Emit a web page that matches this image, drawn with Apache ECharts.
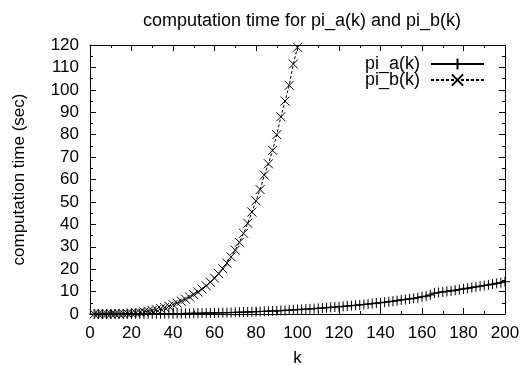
<!DOCTYPE html>
<html>
<head>
<meta charset="utf-8">
<script src="https://cdn.jsdelivr.net/npm/echarts@6/dist/echarts.min.js"></script>
<style>html,body{margin:0;padding:0;background:#fff}#c{width:523px;height:365px}</style>
</head>
<body>
<div id="c"></div>
<script>
var titleText = 'computation time for pi_a(k) and pi_b(k)';
var xName = 'k';
var yName = 'computation time (sec)';
var seriesNames = ['pi_a(k)', 'pi_b(k)'];

var kA = [2,4,6,8,10,12,14,16,18,20,22,24,26,28,30,32,34,36,38,40,
  42,44,46,48,50,52,54,56,58,60,62,64,66,68,70,72,74,76,78,80,
  82,84,86,88,90,92,94,96,98,100,102,104,106,108,110,112,114,116,118,120,
  122,124,126,128,130,132,134,136,138,140,142,144,146,148,150,152,154,156,158,160,
  162,164,166,168,170,172,174,176,178,180,182,184,186,188,190,192,194,196,198,200];
var vA = [0.001,0.002,0.004,0.006,0.01,0.015,0.02,0.025,0.03,0.04,
  0.05,0.06,0.07,0.08,0.1,0.11,0.13,0.15,0.17,0.19,
  0.21,0.23,0.26,0.29,0.31,0.34,0.37,0.41,0.45,0.49,
  0.53,0.57,0.62,0.67,0.72,0.78,0.84,0.9,0.97,1.04,
  1.11,1.18,1.26,1.34,1.43,1.52,1.62,1.72,1.83,1.95,
  2.06,2.17,2.3,2.42,2.55,2.68,2.82,2.96,3.1,3.25,
  3.4,3.57,3.74,3.9,4.08,4.25,4.45,4.64,4.84,5.05,
  5.25,5.48,5.7,5.95,6.3,6.5,6.72,7.0,7.3,7.7,
  7.95,8.5,9.3,9.6,9.85,10.1,10.3,10.6,10.9,11.2,
  11.5,11.8,12.1,12.4,12.7,13.0,13.3,13.7,14.0,14.4];

var kB = [2,4,6,8,10,12,14,16,18,20,22,24,26,28,30,32,34,36,38,40,
  42,44,46,48,50,52,54,56,58,60,62,64,66,68,70,72,74,76,78,80,
  82,84,86,88,90,92,94,96,98,100];
var vB = [0.001,0.004,0.01,0.02,0.04,0.07,0.12,0.18,0.27,0.38,
  0.5,0.7,0.95,1.2,1.55,1.95,2.4,2.9,3.5,4.2,
  4.9,5.7,6.6,7.6,8.7,9.8,11.1,12.6,14.2,16,
  18,20.2,22.7,25.5,28.5,32,36,40.5,45.5,50.5,
  55.5,62,67,73,80,88,95,102,111.5,119];

var xTicks = {min: 0, max: 200, interval: 20};
var yTicks = {min: 0, max: 120, interval: 10};

function pairs(ks, vs) { return ks.map(function (k, i) { return [k, vs[i]]; }); }

var FONT = 'Liberation Sans';
var chart = echarts.init(document.getElementById('c'), null, {renderer: 'canvas'});

function axisCommon(extra) {
  var base = {
    type: 'value',
    axisLine: {show: true, onZero: false, lineStyle: {color: '#000', width: 1}},
    axisTick: {show: true, inside: true, length: 6, lineStyle: {color: '#000', width: 1}},
    minorTick: {show: true, splitNumber: 2, length: 3, lineStyle: {color: '#000', width: 1}},
    splitLine: {show: false},
    axisLabel: {color: '#000', fontFamily: FONT, fontSize: 17}
  };
  for (var key in extra) base[key] = extra[key];
  return base;
}

chart.setOption({
  animation: false,
  backgroundColor: '#fff',
  title: {
    text: titleText, left: 297, top: 7, textAlign: 'center',
    textStyle: {color: '#000', fontFamily: FONT, fontSize: 18, fontWeight: 'normal'}
  },
  grid: {left: 90, right: 18, top: 45, bottom: 51, containLabel: false, outerBoundsMode: 'none'},
  legend: {
    orient: 'vertical', right: 33, top: 50, align: 'right',
    itemWidth: 53, itemHeight: 14, itemGap: -2,
    textStyle: {color: '#000', fontFamily: FONT, fontSize: 18, padding: [0, 6, 0, 0]},
    data: seriesNames
  },
  xAxis: [
    axisCommon({position: 'bottom', min: xTicks.min, max: xTicks.max, interval: xTicks.interval,
      name: xName, nameLocation: 'middle', nameGap: 36,
      nameTextStyle: {color: '#000', fontFamily: FONT, fontSize: 17},
      axisLabel: {color: '#000', fontFamily: FONT, fontSize: 17, margin: 11}}),
    axisCommon({position: 'top', min: xTicks.min, max: xTicks.max, interval: xTicks.interval,
      axisLabel: {show: false}})
  ],
  yAxis: [
    axisCommon({position: 'left', min: yTicks.min, max: yTicks.max, interval: yTicks.interval,
      name: yName, nameLocation: 'middle', nameGap: 62,
      nameTextStyle: {color: '#000', fontFamily: FONT, fontSize: 17},
      axisLabel: {color: '#000', fontFamily: FONT, fontSize: 17, margin: 11}}),
    axisCommon({position: 'right', min: yTicks.min, max: yTicks.max, interval: yTicks.interval,
      axisLabel: {show: false}})
  ],
  series: [
    {
      name: seriesNames[0], type: 'line', xAxisIndex: 0, yAxisIndex: 0,
      data: pairs(kA, vA),
      symbol: 'path://M5,0L5,10M0,5L10,5', symbolSize: 10, showAllSymbol: true,
      itemStyle: {color: 'none', borderColor: '#000', borderWidth: 1},
      lineStyle: {color: '#000', width: 1.2, type: 'solid'},
      z: 3
    },
    {
      name: seriesNames[1], type: 'line', xAxisIndex: 0, yAxisIndex: 0,
      data: pairs(kB, vB),
      symbol: 'path://M0,0L10,10M10,0L0,10', symbolSize: 9, showAllSymbol: true,
      itemStyle: {color: 'none', borderColor: '#000', borderWidth: 1},
      lineStyle: {color: '#000', width: 1, type: [3, 2]},
      z: 2
    }
  ]
});
</script>
</body>
</html>
